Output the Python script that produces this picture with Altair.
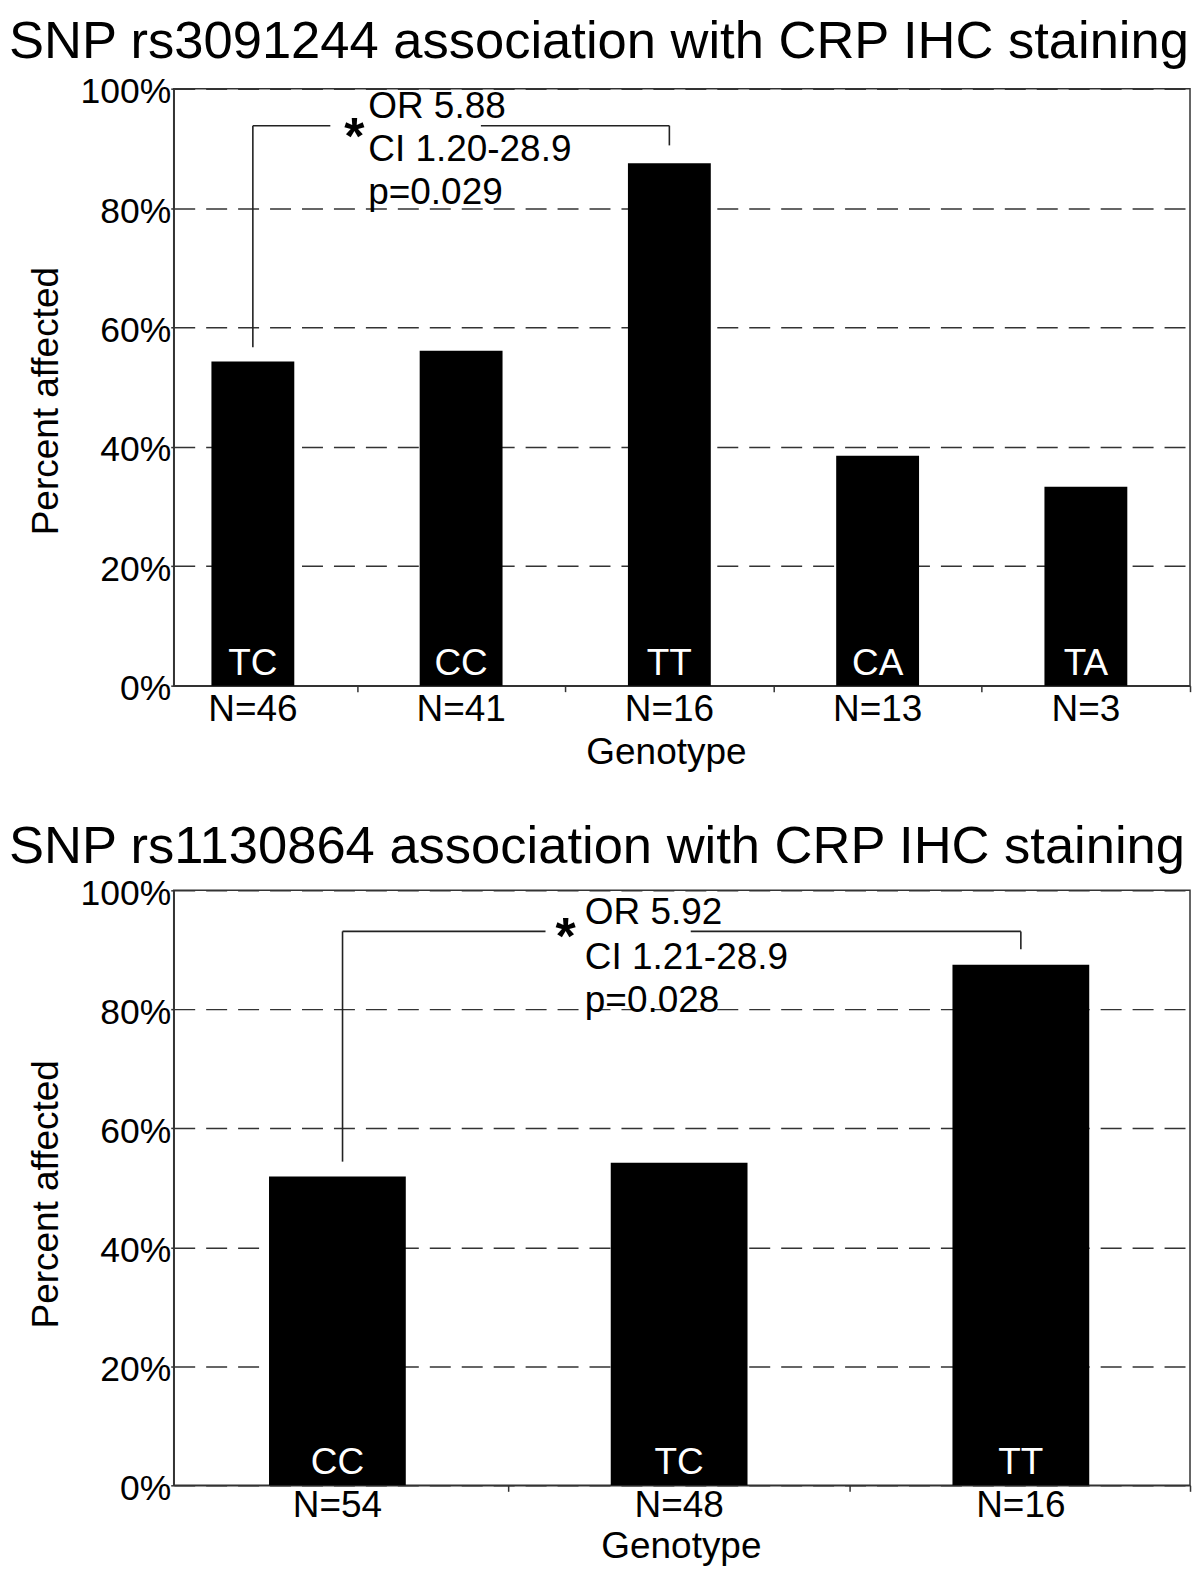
import altair as alt
import pandas as pd

FONT = "Liberation Sans"

# ---------------- data ----------------
top_title = "SNP rs3091244 association with CRP IHC staining"
top_genotypes = ["TC", "CC", "TT", "CA", "TA"]
top_n = [46, 41, 16, 13, 3]
top_pct = [54.3, 56.1, 87.5, 38.5, 33.3]
top_stats = ["OR 5.88", "CI 1.20-28.9", "p=0.029"]

bot_title = "SNP rs1130864 association with CRP IHC staining"
bot_genotypes = ["CC", "TC", "TT"]
bot_n = [54, 48, 16]
bot_pct = [51.9, 54.2, 87.5]
bot_stats = ["OR 5.92", "CI 1.21-28.9", "p=0.028"]

y_ticks = [0, 20, 40, 60, 80, 100]

# annotation geometry (data units: genotype index, percent)
top_bracket_x1 = [0, 0, 1.095, 2.0]
top_bracket_x2 = [0, 0.372, 2.0, 2.0]
top_bracket_y1 = [56.7, 93.8, 93.8, 93.8]
top_bracket_y2 = [93.8, 93.8, 93.8, 90.5]
top_stat_x = 0.554
top_stat_y = [97.3, 90.0, 82.9]
top_star = (0.487, 93.3)

bot_bracket_x1 = [0.015, 0.015, 1.034, 2.0]
bot_bracket_x2 = [0.015, 0.609, 2.0, 2.0]
bot_bracket_y1 = [54.4, 93.1, 93.1, 93.1]
bot_bracket_y2 = [93.1, 93.1, 93.1, 90.1]
bot_stat_x = 0.724
bot_stat_y = [96.5, 88.9, 81.7]
bot_star = (0.668, 93.5)


def panel(title, genotypes, ns, pcts, stats, bx1, bx2, by1, by2, stat_x, stat_y,
          star, x_domain, x_ticks, bar_w, width, height, title_dx, title_offset,
          xtitle_x, xtitle_y, ytitle_x, ytitle_y, n_dy, g_dy):
    df = pd.DataFrame({
        "idx": list(range(len(genotypes))),
        "genotype": genotypes,
        "nlab": [f"N={v}" for v in ns],
        "pct": pcts,
    })
    xs = alt.Scale(domain=x_domain, nice=False, zero=False, padding=0)
    ys = alt.Scale(domain=[0, 100], nice=False, padding=0)
    xaxis = alt.Axis(values=x_ticks, labels=False, grid=False, tickSize=6,
                     title="Genotype", titleX=xtitle_x, titleY=xtitle_y,
                     titleAlign="center", titleBaseline="alphabetic")
    yaxis = alt.Axis(values=y_ticks, labelExpr="datum.value + '%'", tickSize=3,
                     labelPadding=0, labelOffset=3, grid=True,
                     title="Percent affected", titleX=ytitle_x, titleY=ytitle_y,
                     titleAlign="center", titleBaseline="alphabetic")

    def X(f):
        return alt.X(f, scale=xs, axis=xaxis, title="Genotype")

    def Y(f):
        return alt.Y(f, scale=ys, axis=yaxis, title="Percent affected")

    bars = alt.Chart(df).mark_bar(width=bar_w, color="black").encode(
        x=X("idx:Q"), y=Y("pct:Q"),
    )
    nlabels = alt.Chart(df).transform_calculate(base="0").mark_text(
        dy=n_dy, fontSize=37, font=FONT, baseline="middle", color="black"
    ).encode(x=X("idx:Q"), y=Y("base:Q"), text="nlab:N")
    glabels = alt.Chart(df).transform_calculate(base="0").mark_text(
        dy=g_dy, fontSize=37, font=FONT, baseline="middle", color="white"
    ).encode(x=X("idx:Q"), y=Y("base:Q"), text="genotype:N")

    seg = pd.DataFrame({"x1": bx1, "x2": bx2, "y1": by1, "y2": by2})
    bracket = alt.Chart(seg).mark_rule(color="#222", strokeWidth=1.6).encode(
        x=X("x1:Q"), x2="x2:Q", y=Y("y1:Q"), y2="y2:Q",
    )
    st = pd.DataFrame({"x": [stat_x] * len(stats), "y": stat_y, "t": stats})
    stat_text = alt.Chart(st).mark_text(
        align="left", baseline="middle", dy=2, fontSize=37, font=FONT, color="black"
    ).encode(x=X("x:Q"), y=Y("y:Q"), text="t:N")
    sd = pd.DataFrame({"x": [star[0]], "y": [star[1]], "t": ["*"]})
    star_mark = alt.Chart(sd).mark_text(
        baseline="middle", dy=9, fontSize=52, fontWeight="bold", font=FONT, color="black"
    ).encode(x=X("x:Q"), y=Y("y:Q"), text="t:N")

    return alt.layer(bars, nlabels, glabels, bracket, stat_text, star_mark).properties(
        width=width, height=height,
        title=alt.TitleParams(title, anchor="start", frame="group", dx=title_dx,
                              offset=title_offset, baseline="alphabetic",
                              fontSize=52.6, font=FONT, fontWeight="normal",
                              color="black"),
    )


top = panel(top_title, top_genotypes, top_n, top_pct, top_stats,
            top_bracket_x1, top_bracket_x2, top_bracket_y1, top_bracket_y2,
            top_stat_x, top_stat_y, top_star,
            x_domain=[-0.38, 4.5], x_ticks=[0.5, 1.5, 2.5, 3.5, 4.5], bar_w=83,
            width=1018, height=598, title_dx=-165, title_offset=-36,
            xtitle_x=493, xtitle_y=78, ytitle_x=-116.5, ytitle_y=312.5,
            n_dy=24, g_dy=-21.5)

bot = panel(bot_title, bot_genotypes, bot_n, bot_pct, bot_stats,
            bot_bracket_x1, bot_bracket_x2, bot_bracket_y1, bot_bracket_y2,
            bot_stat_x, bot_stat_y, bot_star,
            x_domain=[-0.479, 2.495], x_ticks=[0.5, 1.5, 2.495], bar_w=137,
            width=1018, height=596, title_dx=-165, title_offset=-39,
            xtitle_x=508, xtitle_y=72, ytitle_x=-116.5, ytitle_y=304,
            n_dy=21, g_dy=-22.5)

chart = alt.vconcat(top, bot, spacing=48).properties(
    padding={"left": 0, "top": 5.5, "right": 0, "bottom": 0}
).configure_view(
    stroke="#333", strokeWidth=1.5
).configure_axis(
    domainColor="#333", domainWidth=1.5, tickColor="#333", tickWidth=1.5,
    gridColor="#333", gridWidth=1.5, gridDash=[21, 11],
    labelFont=FONT, titleFont=FONT, labelColor="black", titleColor="black",
    labelFontSize=35.5, titleFontSize=37, titleFontWeight="normal",
)

chart.save("out.html", embed_options={"renderer": "svg", "actions": False})
